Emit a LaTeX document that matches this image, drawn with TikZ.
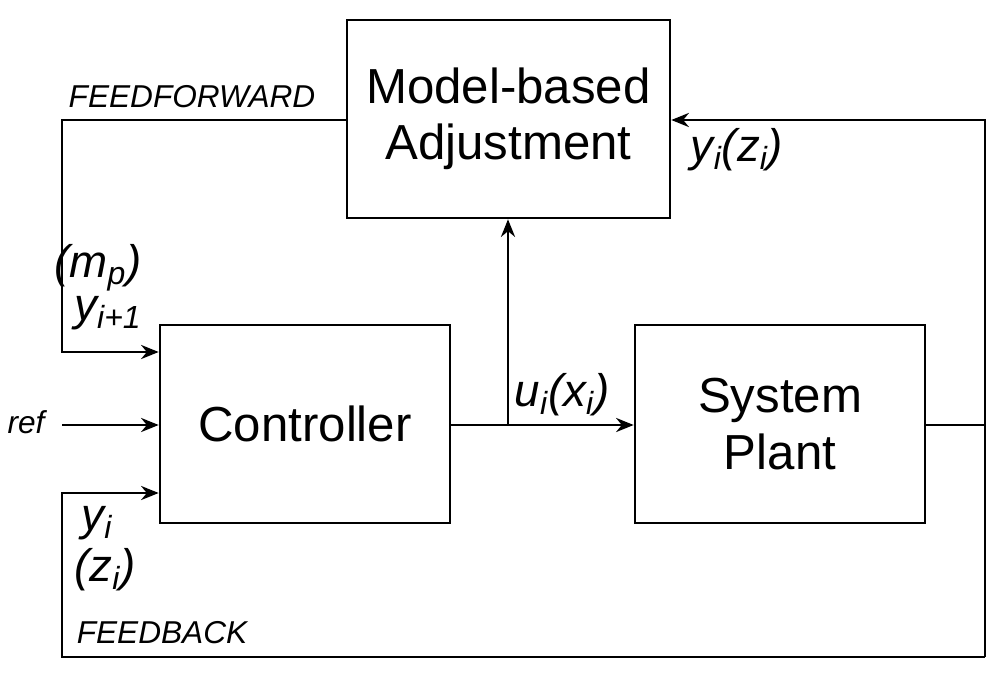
\documentclass[tikz,border=0pt]{standalone}
\usepackage{fontspec}
\setmainfont{Liberation Sans}
\usetikzlibrary{arrows.meta}
\begin{document}
\begin{tikzpicture}[x=0.02cm,y=-0.02cm,
  blk/.style={draw,line width=1.5pt,inner sep=0pt,align=center,font=\fontsize{28}{32}\selectfont},
  wire/.style={line width=1.5pt},
  arr/.style={wire,-{Stealth[length=10pt,width=8pt]}},
  lab/.style={font=\fontsize{26}{28}\selectfont\itshape,inner sep=0pt},
  tag/.style={font=\fontsize{18}{20}\selectfont\itshape,inner sep=0pt}]
\useasboundingbox (0,0) rectangle (1000,677);
\node[blk,minimum width=323*0.02cm,minimum height=198*0.02cm] (mba) at (508.5,119) {Model-based\\Adjustment};
\node[blk,minimum width=290*0.02cm,minimum height=198*0.02cm] (ctl) at (305,424) {Controller};
\node[blk,minimum width=290*0.02cm,minimum height=198*0.02cm] (plt) at (780,424) {System\\Plant};
\coordinate (ffl) at (62,120);
\coordinate (ffb) at (62,352);
\coordinate (rfs) at (62,425);
\coordinate (fbs) at (62,493);
\coordinate (fbl) at (62,657);
\coordinate (rbr) at (985,657);
\coordinate (rtr) at (985,120);
\coordinate (br) at (508,425);
\draw[arr] (mba.west |- ffl) -- (ffl) -- (ffb) -- (ctl.west |- ffb);
\draw[arr] (rfs) -- (ctl.west |- rfs);
\draw[arr] (rbr) -- (fbl) -- (fbs) -- (ctl.west |- fbs);
\draw[arr] (ctl.east |- br) -- (plt.west |- br);
\draw[arr] (br) -- (mba.south -| br);
\draw[wire] (plt.east |- br) -- (985,425);
\draw[arr] (rbr) -- (rtr) -- (mba.east |- rtr);
\node[tag] (tff) at (192,97) {FEEDFORWARD};
\node[tag] (tfb) at (162,633) {FEEDBACK};
\node[tag] (tref) at (26,422) {ref};
\node[lab] (lmp) at (98,268) {(m\textsubscript{p})};
\node[lab] (lyi1) at (108,313) {y\textsubscript{i+1}};
\node[lab] (lyi) at (97,523) {y\textsubscript{i}};
\node[lab] (lzi) at (105,570) {(z\textsubscript{i})};
\node[lab] (lu) at (562,395) {u\textsubscript{i}(x\textsubscript{i})};
\node[lab] (ly) at (737,150) {y\textsubscript{i}(z\textsubscript{i})};
\end{tikzpicture}
\end{document}
